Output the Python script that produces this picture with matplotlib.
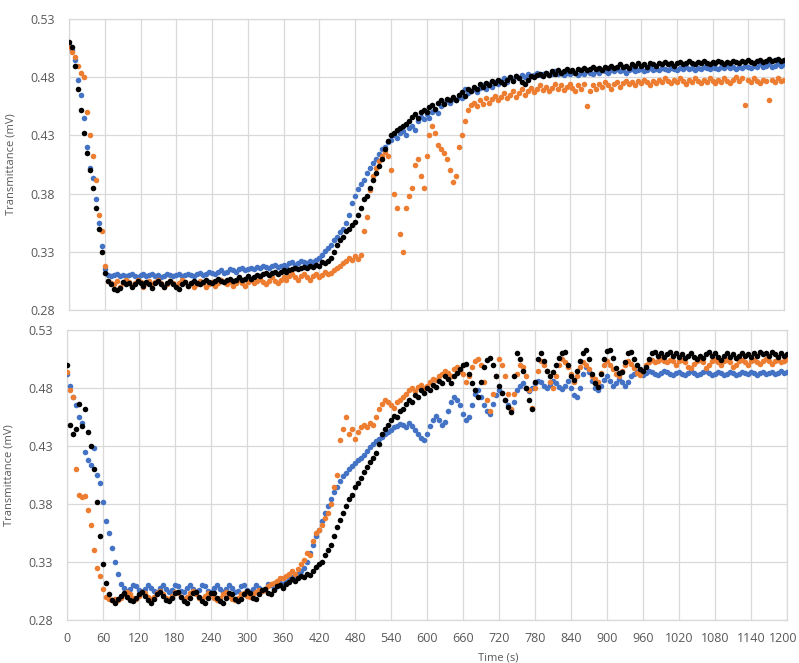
import numpy as np
import matplotlib
matplotlib.use("Agg")
import matplotlib.pyplot as plt
import matplotlib.transforms as mtransforms

plt.rcParams['font.family'] = ['Open Sans', 'DejaVu Sans']

# sample times (s), one reading every 5 s
times = np.arange(0, 1201, 5)

# transmittance readings in thousandths of a mV, 12 readings per minute row
top_blue = [
    508, 503, 495, 478, 465, 445, 420, 402, 393, 375, 355, 335,
    315, 310, 309, 310, 311, 309, 310, 309, 310, 311, 309, 308,
    310, 311, 309, 310, 311, 309, 310, 308, 309, 311, 310, 309,
    310, 311, 309, 310, 311, 310, 309, 311, 312, 310, 311, 313,
    312, 311, 313, 314, 312, 313, 315, 314, 313, 315, 316, 314,
    315, 316, 315, 317, 316, 318, 317, 316, 318, 319, 317, 318,
    319, 318, 320, 321, 319, 320, 322, 321, 320, 322, 321, 323,
    325, 327, 331, 333, 336, 340, 343, 347, 350, 355, 362, 372,
    378, 384, 388, 392, 398, 402, 406, 410, 414, 418, 420, 424,
    426, 430, 428, 432, 434, 430, 436, 438, 435, 442, 446, 444,
    448, 445, 450, 452, 449, 455, 458, 460, 458, 461, 460, 463,
    462, 470, 466, 468, 470, 467, 471, 473, 470, 474, 472, 476,
    474, 477, 479, 476, 480, 478, 481, 479, 482, 480, 483, 481,
    482, 484, 482, 483, 484, 482, 483, 485, 483, 484, 482, 484,
    483, 485, 484, 482, 484, 483, 485, 484, 483, 485, 484, 486,
    485, 484, 486, 485, 487, 485, 486, 484, 486, 487, 485, 486,
    487, 485, 486, 488, 486, 487, 486, 488, 487, 486, 488, 487,
    486, 488, 487, 489, 487, 488, 486, 488, 487, 489, 488, 487,
    489, 488, 487, 489, 488, 490, 488, 489, 487, 489, 488, 490,
    489, 488, 490, 489, 491, 489, 490, 491, 489, 490, 491, 490,
    491]

top_orange = [
    506, 502, 497, 490, 484, 480, 450, 430, 412, 392, 362, 348,
    318, 305, 303, 302, 305, 300, 303, 306, 304, 301, 303, 306,
    304, 300, 303, 305, 302, 304, 306, 303, 300, 302, 305, 303,
    301, 303, 306, 304, 301, 303, 300, 302, 305, 303, 300, 302,
    304, 301, 303, 306, 304, 302, 304, 301, 303, 306, 303, 301,
    304, 306, 303, 305, 307, 304, 302, 305, 308, 305, 303, 306,
    308, 306, 309, 311, 308, 306, 309, 311, 308, 306, 309, 311,
    308, 310, 313, 311, 312, 314, 316, 318, 320, 322, 325, 323,
    326, 324, 327, 348, 360, 383, 395, 402, 408, 412, 416, 412,
    400, 380, 368, 345, 330, 368, 378, 385, 405, 410, 395, 385,
    412, 430, 438, 432, 422, 418, 415, 410, 400, 390, 395, 420,
    430, 442, 452, 456, 458, 455, 460, 457, 462, 458, 461, 464,
    460, 463, 466, 462, 465, 468, 463, 466, 470, 465, 468, 471,
    467, 470, 473, 469, 472, 468, 471, 474, 470, 473, 469, 472,
    474, 471, 468, 473, 470, 474, 455, 468, 473, 470, 474, 472,
    476, 473, 470, 474, 476, 472, 475, 477, 474, 476, 473, 477,
    475, 478, 476, 473, 477, 475, 478, 476, 479, 477, 475, 478,
    476, 479, 477, 474, 478, 476, 479, 477, 475, 478, 476, 479,
    477, 475, 478, 476, 479, 477, 475, 478, 480, 477, 479, 456,
    478, 476, 479, 477, 475, 478, 477, 460, 478, 476, 479, 477,
    478]

top_black = [
    510, 506, 490, 470, 452, 432, 415, 400, 385, 368, 350, 330,
    312, 305, 302, 298, 297, 299, 304, 302, 303, 300, 302, 305,
    303, 301, 304, 302, 299, 303, 305, 302, 300, 303, 305, 302,
    300, 298, 302, 304, 301, 303, 305, 303, 302, 304, 306, 304,
    303, 305, 307, 305, 304, 306, 307, 305, 306, 308, 306, 307,
    309, 307, 308, 310, 309, 311, 312, 310, 312, 313, 311, 313,
    314, 313, 314, 315, 316, 315, 316, 317, 316, 318, 317, 319,
    318, 321, 320, 322, 325, 330, 336, 340, 343, 348, 350, 353,
    356, 362, 368, 375, 378, 385, 392, 398, 404, 410, 418, 425,
    430, 432, 435, 436, 438, 440, 442, 446, 448, 445, 450, 452,
    450, 454, 456, 453, 458, 460, 457, 461, 460, 463, 460, 465,
    467, 464, 470, 468, 472, 470, 474, 472, 475, 473, 477, 475,
    478, 476, 474, 478, 480, 477, 481, 479, 476, 474, 478, 481,
    480, 482, 483, 481, 484, 482, 485, 483, 486, 484, 485, 487,
    485, 486, 484, 487, 486, 488, 486, 487, 489, 487, 488, 486,
    489, 488, 490, 488, 489, 491, 489, 490, 488, 491, 490, 492,
    490, 491, 489, 492, 491, 490, 492, 491, 493, 491, 492, 490,
    492, 493, 491, 492, 494, 492, 491, 493, 492, 494, 492, 491,
    493, 492, 494, 493, 491, 493, 492, 494, 493, 492, 494, 493,
    495, 493, 492, 494, 495, 493, 494, 496, 494, 495, 496, 494,
    495]

bottom_blue = [
    492, 482, 472, 465, 455, 450, 425, 418, 414, 428, 405, 398,
    382, 365, 355, 342, 330, 320, 311, 308, 305, 307, 310, 309,
    306, 304, 307, 310, 308, 305, 304, 308, 310, 307, 304, 306,
    310, 309, 305, 304, 308, 310, 307, 304, 306, 310, 309, 305,
    304, 308, 310, 307, 304, 307, 310, 308, 304, 305, 309, 310,
    306, 304, 307, 310, 308, 305, 307, 311, 310, 307, 309, 312,
    311, 313, 315, 317, 318, 320, 322, 325, 330, 338, 345, 352,
    358, 365, 372, 378, 384, 390, 395, 400, 404, 407, 410, 413,
    415, 418, 420, 422, 426, 429, 432, 434, 436, 438, 440, 442,
    444, 446, 447, 449, 448, 446, 450, 447, 444, 440, 437, 435,
    440, 447, 452, 456, 452, 448, 451, 460, 468, 472, 470, 465,
    458, 452, 455, 465, 475, 478, 472, 465, 460, 458, 466, 474,
    478, 476, 470, 465, 461, 468, 478, 482, 484, 480, 477, 480,
    484, 486, 485, 482, 480, 483, 486, 484, 481, 479, 482, 486,
    480, 474, 472, 480, 492, 498, 494, 486, 480, 478, 482, 487,
    490, 486, 482, 484, 488, 485, 482, 485, 490, 492, 494, 493,
    491, 493, 495, 494, 492, 491, 493, 495, 494, 492, 491, 493,
    494, 492, 491, 493, 495, 493, 491, 492, 494, 495, 493, 491,
    492, 494, 493, 491, 492, 494, 493, 491, 492, 494, 493, 492,
    494, 493, 491, 493, 494, 492, 493, 494, 492, 493, 495, 493,
    494]

bottom_orange = [
    494, 478, 472, 410, 388, 386, 387, 375, 362, 340, 325, 318,
    307, 300, 298, 297, 298, 297, 299, 302, 304, 302, 299, 298,
    301, 304, 303, 300, 298, 300, 303, 305, 302, 299, 298, 301,
    304, 303, 300, 298, 300, 303, 305, 302, 299, 298, 301, 303,
    302, 299, 297, 299, 302, 304, 301, 298, 297, 299, 302, 303,
    301, 300, 302, 304, 306, 305, 306, 309, 311, 312, 314, 316,
    316, 318, 320, 322, 320, 324, 328, 332, 338, 336, 348, 355,
    358, 362, 368, 372, 380, 395, 405, 435, 445, 455, 440, 445,
    436, 442, 446, 448, 446, 450, 448, 455, 462, 466, 470, 468,
    465, 463, 468, 470, 472, 475, 478, 480, 477, 481, 483, 480,
    482, 485, 488, 487, 490, 492, 495, 493, 490, 496, 498, 495,
    492, 485, 490, 498, 503, 505, 500, 485, 470, 460, 475, 490,
    505, 500, 490, 475, 462, 475, 492, 500, 498, 490, 478, 463,
    480, 495, 503, 500, 495, 485, 480, 490, 500, 505, 502, 498,
    492, 485, 490, 498, 502, 500, 496, 490, 488, 485, 493, 500,
    503, 500, 496, 492, 490, 495, 500, 503, 501, 497, 493, 491,
    495, 500, 502, 504, 502, 503, 505, 503, 502, 504, 503, 500,
    503, 504, 502, 498, 497, 501, 503, 504, 502, 497, 500, 503,
    504, 502, 500, 503, 504, 502, 498, 500, 503, 504, 502, 500,
    503, 504, 502, 501, 503, 505, 503, 501, 503, 504, 502, 503,
    505]

bottom_black = [
    500, 448, 440, 445, 466, 447, 462, 442, 430, 410, 382, 352,
    328, 312, 302, 297, 295, 298, 301, 303, 300, 297, 296, 299,
    302, 304, 301, 297, 295, 298, 302, 304, 301, 297, 296, 299,
    303, 304, 300, 296, 295, 299, 303, 304, 300, 296, 295, 299,
    303, 303, 299, 296, 295, 299, 303, 302, 298, 296, 298, 302,
    305, 303, 299, 298, 302, 306, 307, 303, 302, 306, 309, 310,
    308, 311, 313, 315, 314, 316, 318, 317, 320, 319, 322, 326,
    328, 330, 336, 340, 345, 352, 360, 366, 372, 378, 384, 388,
    395, 398, 402, 408, 412, 416, 420, 424, 432, 440, 445, 448,
    452, 456, 455, 460, 462, 466, 470, 468, 474, 472, 478, 476,
    480, 478, 483, 481, 486, 484, 490, 488, 484, 490, 493, 496,
    500, 501, 492, 484, 478, 472, 485, 498, 504, 506, 500, 490,
    482, 476, 470, 464, 459, 490, 510, 505, 495, 480, 470, 462,
    485, 505, 510, 503, 495, 490, 494, 500, 506, 510, 511, 500,
    490, 487, 495, 503, 510, 513, 505, 492, 484, 481, 492, 505,
    512, 513, 506, 497, 493, 494, 502, 510, 511, 505, 500, 496,
    495, 498, 505, 510, 511, 508, 510, 507, 509, 511, 508, 510,
    507, 509, 506, 508, 510, 507, 505, 508, 506, 509, 511, 508,
    510, 507, 504, 508, 510, 507, 509, 506, 508, 510, 508, 509,
    507, 510, 508, 511, 509, 510, 508, 511, 509, 507, 510, 508,
    509]

y_ticks = [0.28, 0.33, 0.38, 0.43, 0.48, 0.53]
x_ticks = list(range(0, 1201, 60))

BLUE = '#4472C4'
ORANGE = '#ED7D31'
BLACK = '#000000'
GRID = '#D9D9D9'
TEXT = '#595959'


def style_axis(ax, show_x_labels):
    ax.set_xlim(0, 1200)
    ax.set_ylim(0.28, 0.53)
    ax.set_xticks(x_ticks)
    ax.set_yticks(y_ticks)
    ax.set_yticklabels([f"{v:.2f}" for v in y_ticks])
    ax.grid(True, color=GRID, linewidth=0.9)
    ax.set_axisbelow(True)
    for spine in ax.spines.values():
        spine.set_color(GRID)
        spine.set_linewidth(0.9)
    ax.tick_params(axis='both', length=0, labelsize=9, colors=TEXT)
    ax.tick_params(axis='y', pad=10)
    ax.tick_params(axis='x', pad=9)
    if not show_x_labels:
        ax.set_xticklabels([])
    ax.set_ylabel('Transmittance (mV)', fontsize=8, color=TEXT, labelpad=10)


fig = plt.figure(figsize=(7.99, 6.63), dpi=100)
ax1 = fig.add_axes([69 / 799, 1 - 310 / 663, 715 / 799, 291 / 663])
ax2 = fig.add_axes([67 / 799, 1 - 620 / 663, 720 / 799, 290 / 663])

panels = [
    (ax1, top_blue, top_orange, top_black),
    (ax2, bottom_blue, bottom_orange, bottom_black),
]
for ax, blue, orange, black in panels:
    for vals, col in [(blue, BLUE), (orange, ORANGE), (black, BLACK)]:
        assert len(vals) == len(times)
        ax.scatter(times, np.array(vals) / 1000.0, s=16, color=col,
                   linewidths=0, zorder=3)

style_axis(ax1, False)
style_axis(ax2, True)

# nudge the last x label so it stays inside the canvas
last = ax2.get_xticklabels()[-1]
last.set_transform(last.get_transform() +
                   mtransforms.ScaledTranslation(-3 / 72, 0, fig.dpi_scale_trans))

fig.text(498 / 799, 1 - 658 / 663, 'Time (s)', fontsize=8, color=TEXT,
         ha='center', va='center')

fig.savefig('out.png', dpi=100, facecolor='white')
